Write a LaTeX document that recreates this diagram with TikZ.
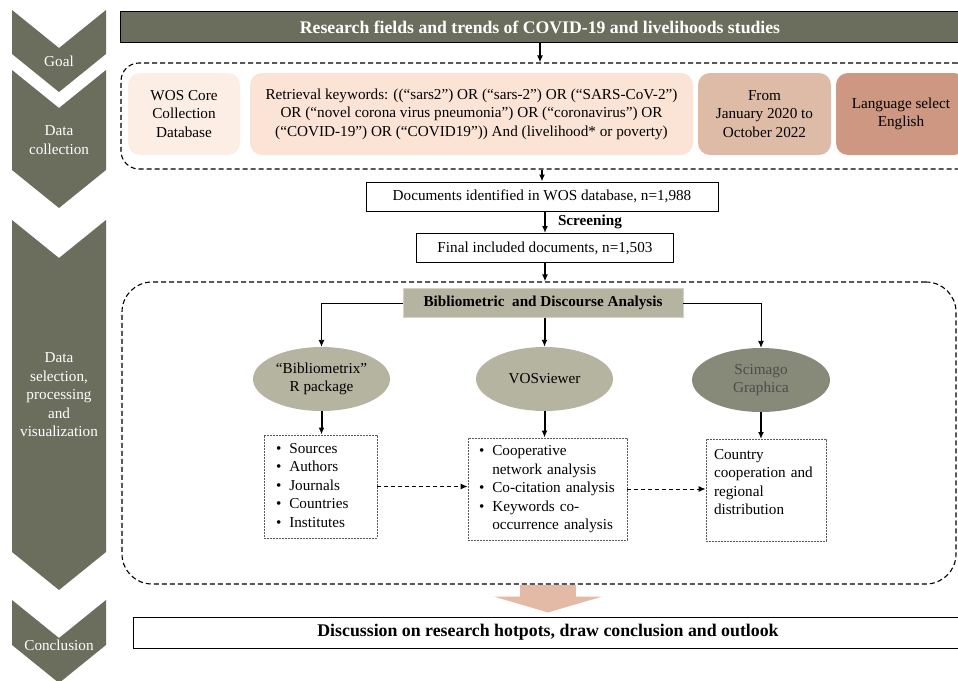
\documentclass[tikz,border=0pt]{standalone}
\usepackage{fontspec}
\setmainfont{Liberation Serif}
\usetikzlibrary{arrows.meta,positioning,shapes.geometric}
\definecolor{chevGray}{HTML}{6B6E5D}
\definecolor{khaki}{HTML}{B5B4A1}
\definecolor{darkKhaki}{HTML}{878A79}
\definecolor{peachA}{HTML}{FDEEE5}
\definecolor{peachB}{HTML}{FBE4D5}
\definecolor{peachC}{HTML}{DDBBA7}
\definecolor{peachD}{HTML}{CD9781}
\definecolor{arrowPeach}{HTML}{E2BAA5}

\begin{document}
\begin{tikzpicture}[x=1pt,y=-1pt,every node/.style={font=\fontsize{15.2}{18.5}\selectfont,inner sep=0pt},
                    >={Latex[length=7pt,width=6pt]}]
  \tikzstyle{stage}=[fill=chevGray]
  \tikzstyle{stagelabel}=[text=white,align=center]
  \tikzstyle{banner}=[draw=black,line width=1pt,fill=chevGray,text=white,
                      font=\fontsize{17.7}{20}\selectfont\bfseries,minimum height=31pt]
  \tikzstyle{group}=[draw,line width=1.1pt,dash pattern=on 5pt off 3pt,rounded corners=18pt]
  \tikzstyle{source}=[rounded corners=12pt,minimum height=82pt,align=center]
  \tikzstyle{count}=[draw,line width=1pt,minimum height=29pt]
  \tikzstyle{tool}=[ellipse,fill=khaki,minimum width=137pt,minimum height=64pt,align=center]
  \tikzstyle{result}=[draw=black!65,line width=0.9pt,dash pattern=on 2pt off 1pt,align=left]
  \tikzstyle{flow}=[->,line width=2pt]
  \tikzstyle{link}=[->,line width=0.9pt]
  \tikzstyle{feed}=[->,line width=1pt,dash pattern=on 4pt off 3pt]

  \useasboundingbox (0,0) rectangle (958,680);

  % stage chevrons on the left
  \foreach \t/\b in {10/54,70/170,220/552,600/645}
    \fill[stage] (12,\t) -- (59,\t+38) -- (106,\t) -- (106,\b) -- (59,\b+38) -- (12,\b) -- cycle;
  \node[stagelabel] (lgoal) at (59,61) {Goal};
  \node[stagelabel] (lcollect) at (59,140) {Data\\collection};
  \node[stagelabel] (lselect) at (59,395) {Data\\selection,\\processing\\and\\visualization};
  \node[stagelabel] (lconclude) at (59,645) {Conclusion};

  % goal
  \node[banner,minimum width=840pt] (goal) at (540,27) {Research fields and trends of COVID-19 and livelihoods studies};

  % data collection
  \node[group,minimum width=854pt,minimum height=106pt] (collect) at (548,116) {};
  \node[source,fill=peachA,minimum width=112pt] (wos) at (184,114) {WOS Core\\Collection\\Database};
  \node[source,fill=peachB,minimum width=443pt] (query) at (471.5,114)
    {Retrieval keywords: ((“sars2”) OR (“sars-2”) OR (“SARS-CoV-2”)\\OR (“novel corona virus pneumonia”) OR (“coronavirus”) OR\\(“COVID-19”) OR (“COVID19”)) And (livelihood* or poverty)};
  \node[source,fill=peachC,minimum width=133pt] (period) at (764.5,114) {From\\January 2020 to\\October 2022};
  \node[source,fill=peachD,minimum width=130pt] (lang) at (901,114) {Language select\\English};

  % screening
  \node[count,minimum width=352pt] (found) at (542,196.5) {Documents identified in WOS database, n=1,988};
  \node[count,minimum width=257pt] (kept) at (545,248) {Final included documents, n=1,503};

  \draw[flow] (goal.south) -- (goal.south |- collect.north);
  \draw[flow] (collect.south -| found.north) -- (found.north);
  \draw[flow] (found.south -| kept.north) -- (kept.north)
    node[midway,anchor=west,xshift=12pt,font=\fontsize{15.2}{18}\selectfont\bfseries] {Screening};

  % analysis
  \node[group,rounded corners=30pt,minimum width=834pt,minimum height=302pt] (analysis) at (539,433) {};
  \draw[flow] (kept.south) -- (kept.south |- analysis.north);
  \node[fill=khaki,draw=khaki!60!white,minimum width=280pt,minimum height=29pt,
        font=\fontsize{15.2}{18}\selectfont\bfseries] (method) at (543,303) {Bibliometric\ \ and Discourse Analysis};

  \node[tool] (bibx) at (321.5,379) {“Bibliometrix”\\R package};
  \node[tool] (vos) at (544.5,379) {VOSviewer};
  \node[tool,fill=darkKhaki,text=black!70,minimum width=138pt] (scim) at (761,380) {Scimago\\Graphica};

  \draw[link] (method.west) -| (bibx.north);
  \draw[link] (method.east) -| (scim.north);
  \draw[flow] (method.south -| vos.north) -- (vos.north);

  \node[result,inner xsep=12pt,text width=89pt,minimum height=103pt] (counts) at (320.5,486.5)
    {\begin{tabular}{@{}l@{\hspace{8pt}}l@{}}
      \textbullet & Sources\\ \textbullet & Authors\\ \textbullet & Journals\\
      \textbullet & Countries\\ \textbullet & Institutes
     \end{tabular}};
  \node[result,inner xsep=11pt,text width=137pt,minimum height=102pt] (tasks) at (547.5,489)
    {\begin{tabular}{@{}l@{\hspace{8pt}}l@{}}
      \textbullet & Cooperative\\ & network analysis\\ \textbullet & Co-citation analysis\\
      \textbullet & Keywords co-\\ & occurrence analysis
     \end{tabular}};
  \node[result,anchor=north,inner xsep=8pt,text width=104pt,text height=20pt,text depth=82pt] (region) at (766,439)
    {Country\\cooperation and\\regional\\distribution};

  \draw[flow] (bibx.south) -- (counts.north -| bibx.south);
  \draw[flow] (vos.south) -- (tasks.north -| vos.south);
  \draw[flow] (scim.south) -- (region.north -| scim.south);
  \draw[feed] (counts.east) -- (counts.east -| tasks.west);
  \draw[feed] (tasks.east) -- (tasks.east -| region.west);

  % conclusion
  \node[draw,line width=1pt,minimum width=830pt,minimum height=31pt,
        font=\fontsize{17.8}{20}\selectfont\bfseries] (outlook) at (548,632.5)
    {Discussion on research hotpots, draw conclusion and outlook};
  \draw[arrowPeach,line width=56pt,-{Triangle[length=16pt,width=108pt]},shorten >=4pt]
    (outlook.north |- analysis.south) -- (outlook.north);
\end{tikzpicture}
\end{document}
